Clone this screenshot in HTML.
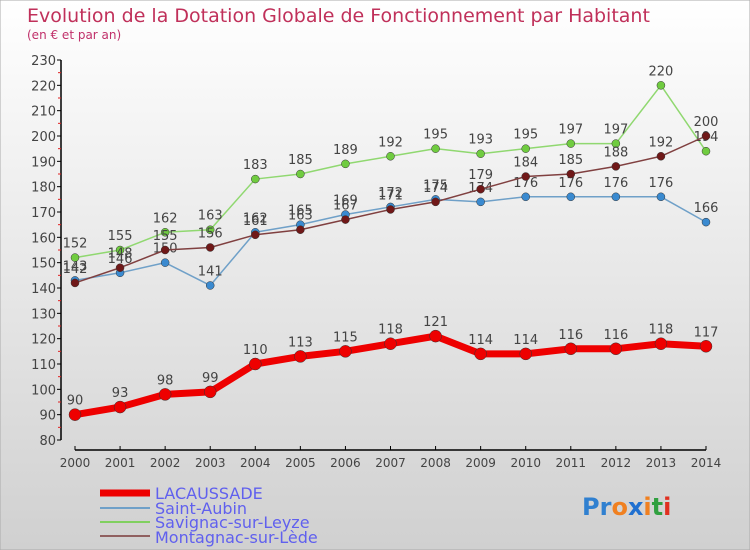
<!DOCTYPE html>
<html><head><meta charset="utf-8"><style>
body{margin:0}
svg{display:block;font-family:"DejaVu Sans","Liberation Sans",sans-serif}
</style></head><body>
<svg id="c" width="750" height="550" viewBox="0 0 750 550" xmlns="http://www.w3.org/2000/svg">
<defs><linearGradient id="bg" x1="0" y1="0" x2="0" y2="1"><stop offset="0" stop-color="#ffffff"/><stop offset="1" stop-color="#d0d0d0"/></linearGradient></defs>
<rect x="0" y="0" width="750" height="550" fill="url(#bg)" stroke="#aaa"/>
<text x="27" y="22" font-size="19" fill="#c0305a">Evolution de la Dotation Globale de Fonctionnement par Habitant</text>
<text x="27" y="39" font-size="12" fill="#c0306a">(en € et par an)</text>
<g id="axes"></g><g id="series"></g>
<g>
<line x1="100" y1="493" x2="150" y2="493" stroke="#ee0000" stroke-width="7"/>
<text x="155" y="499" font-size="16" fill="#6060ee">LACAUSSADE</text>
<line x1="100" y1="508" x2="150" y2="508" stroke="#6fa0c8" stroke-width="2"/>
<text x="155" y="514" font-size="16" fill="#6060ee">Saint-Aubin</text>
<line x1="100" y1="522" x2="150" y2="522" stroke="#80d060" stroke-width="2"/>
<text x="155" y="528" font-size="16" fill="#6060ee">Savignac-sur-Leyze</text>
<line x1="100" y1="536" x2="150" y2="536" stroke="#906060" stroke-width="2"/>
<text x="155" y="543" font-size="16" fill="#6060ee">Montagnac-sur-Lède</text>
</g>
<text x="582" y="515" font-size="24" font-weight="bold"><tspan fill="#3080d0">Pr</tspan><tspan fill="#f08020">o</tspan><tspan fill="#2070d0">x</tspan><tspan fill="#f08020">i</tspan><tspan fill="#30a040">t</tspan><tspan fill="#e03020">i</tspan></text>
</svg>
<script>
const years=["2000","2001","2002","2003","2004","2005","2006","2007","2008","2009","2010","2011","2012","2013","2014"];
const yTicks=[80,90,100,110,120,130,140,150,160,170,180,190,200,210,220,230];
const lacaussade=[90,93,98,99,110,113,115,118,121,114,114,116,116,118,117];
const saintAubin=[143,146,150,141,162,165,169,172,175,174,176,176,176,176,166];
const savignac=[152,155,162,163,183,185,189,192,195,193,195,197,197,220,194];
const montagnac=[142,148,155,156,161,163,167,171,174,179,184,185,188,192,200];
const NS="http://www.w3.org/2000/svg";
const X=i=>75+i*(706-75)/(years.length-1);
const Y=v=>440-(v-80)*380/150;
function mk(t,a,p){const e=document.createElementNS(NS,t);for(const k in a)e.setAttribute(k,a[k]);p.appendChild(e);return e;}
const ax=document.getElementById('axes'),sg=document.getElementById('series');
let yl=mk('line',{x1:61,y1:Y(230),x2:61,y2:Y(80),stroke:'#000','stroke-width':1.5},ax);


yTicks.forEach((v,i)=>{
 mk('line',{x1:57,y1:Y(v),x2:61,y2:Y(v),stroke:'#000'},ax);
 if(i<yTicks.length-1)mk('line',{x1:58,y1:Y(v+5),x2:61,y2:Y(v+5),stroke:'#e02020'},ax);
 const t=mk('text',{x:56,y:Y(v)+5,'font-size':13,fill:'#444','text-anchor':'end'},ax);t.textContent=v;
 
 
});
let xl=mk('line',{x1:X(0),y1:450,x2:X(14),y2:450,stroke:'#000','stroke-width':1.5},ax);


years.forEach((y,i)=>{
 mk('line',{x1:X(i),y1:446,x2:X(i),y2:450,stroke:'#000'},ax);
 const t=mk('text',{x:X(i),y:467,'font-size':12,fill:'#444','text-anchor':'middle'},ax);t.textContent=y;
 
 
});
function series(vals,color,dot,w,r,name){
 const g=mk('g',{},sg);
 
 
 const pl=mk('polyline',{points:vals.map((v,i)=>X(i)+','+Y(v)).join(' '),fill:'none',stroke:color,'stroke-width':w,'stroke-linejoin':'round'},g);
 
 
 vals.forEach((v,i)=>{
  const c=mk('circle',{cx:X(i),cy:Y(v),r:r,fill:dot,stroke:'#333','stroke-width':0.5},g);
  
  
  const t=mk('text',{x:X(i),y:Y(v)-10,'font-size':13,fill:'#444','text-anchor':'middle'},g);t.textContent=v;
  
  
 });
}
series(saintAubin,'#6fa0c8','#3a8ad0',1.5,4,'saint-aubin');
series(savignac,'#90d870','#70cc40',1.5,4,'savignac');
series(montagnac,'#804040','#701818',1.5,4,'montagnac');
series(lacaussade,'#ee0000','#ee0000',7,6,'lacaussade');
</script>
</body></html>
